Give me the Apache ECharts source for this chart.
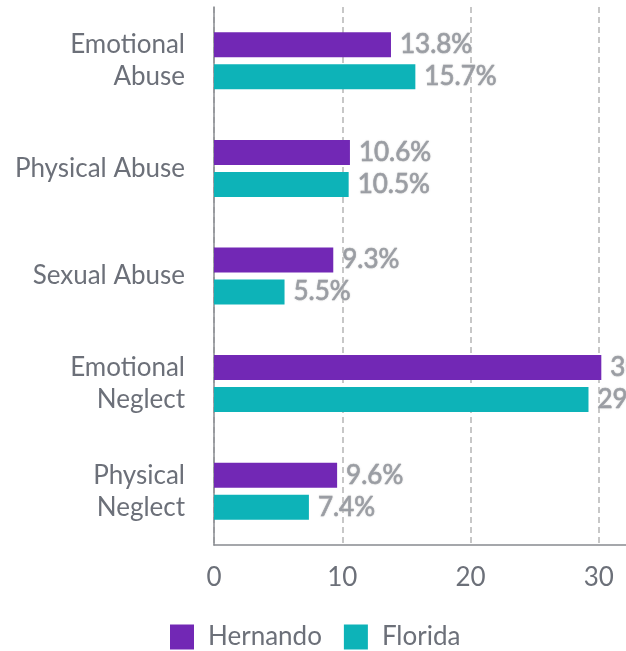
<!DOCTYPE html>
<html><head><meta charset="utf-8">
<script src="https://cdn.jsdelivr.net/npm/echarts@6/dist/echarts.min.js"></script>
<style>html,body{margin:0;padding:0;background:#fff;overflow:hidden;width:626px;height:651px}#c{width:760px;height:651px}</style>
</head><body><div id="c"></div>
<script>
const categories = ['Emotional\nAbuse', 'Physical Abuse', 'Sexual Abuse', 'Emotional\nNeglect', 'Physical\nNeglect'];
const hernando = [13.8, 10.6, 9.3, 30.2, 9.6];
const florida = [15.7, 10.5, 5.5, 29.2, 7.4];
const xTicks = [0, 10, 20, 30, 40];

const gray = '#6c7079';
const labelStyle = {
  show: true, position: 'right', distance: 9,
  formatter: p => p.value + '%',
  fontFamily: 'Lato', fontWeight: 'normal', fontSize: 26, color: '#9a9da3',
  textBorderColor: '#85888e', textBorderWidth: 0.7,
  textShadowColor: 'rgba(215,215,215,0.8)', textShadowBlur: 2
};
const chart = echarts.init(document.getElementById('c'));
chart.setOption({
  animation: false,
  textStyle: { fontFamily: 'Lato' },
  legend: {
    top: 624, left: 170, itemWidth: 24, itemHeight: 25, itemGap: 22,
    icon: 'rect', padding: 0,
    textStyle: { fontFamily: 'Lato', fontSize: 26, color: gray, padding: [0, 0, 0, 9] },
    data: ['Hernando', 'Florida']
  },
  grid: { left: 214, top: 7, width: 513, bottom: 106, containLabel: false },
  xAxis: {
    type: 'value', min: xTicks[0], max: xTicks[xTicks.length - 1], interval: 10,
    axisLine: { show: true, lineStyle: { color: '#888b90', width: 1.5 } },
    axisTick: { show: false },
    axisLabel: { fontFamily: 'Lato', fontSize: 26, color: gray, margin: 20 },
    splitLine: { show: true, lineStyle: { type: [6, 4], color: '#b5b5b5', width: 1.5 } }
  },
  yAxis: {
    type: 'category', data: categories, inverse: true,
    axisLine: { show: true, lineStyle: { color: '#888b90', width: 1.5 } },
    axisTick: { show: false },
    axisLabel: { fontFamily: 'Lato', fontSize: 26, color: gray, margin: 29, lineHeight: 32, align: 'right' }
  },
  series: [
    { name: 'Hernando', type: 'bar', data: hernando, barWidth: 25, barGap: '28%',
      itemStyle: { color: '#7228b5' }, label: labelStyle },
    { name: 'Florida', type: 'bar', data: florida, barWidth: 25, barGap: '28%',
      itemStyle: { color: '#0db3b8' }, label: labelStyle }
  ]
});
</script></body></html>
